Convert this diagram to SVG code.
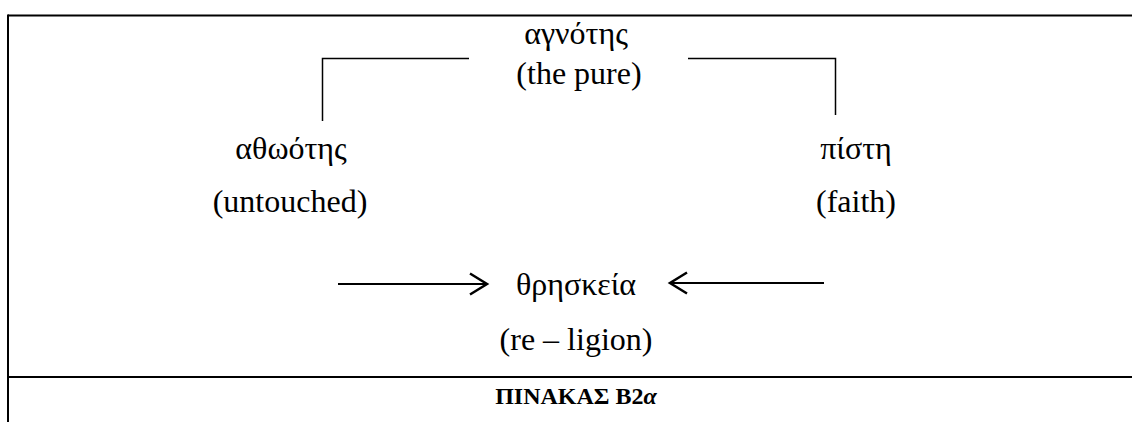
<svg xmlns="http://www.w3.org/2000/svg" width="1132" height="422" viewBox="0 0 1132 422">
<style>
  .t { font-family: "Liberation Serif", "Times New Roman", serif; font-size: 32px; fill: #000; text-anchor: middle; }
  .cap { font-family: "Liberation Serif", "Times New Roman", serif; font-size: 24px; font-weight: bold; fill: #000; text-anchor: middle; }
  .frame { stroke: #000; stroke-width: 2; fill: none; }
  .bracket { stroke: #000; stroke-width: 1.5; fill: none; }
  .arrow { stroke: #000; stroke-width: 2; fill: none; marker-end: url(#chev); }
</style>
<defs>
  <marker id="chev" markerUnits="userSpaceOnUse" markerWidth="22" markerHeight="26" viewBox="0 0 22 26" refX="19" refY="13" orient="auto">
    <path d="M2,2.5 L19,13 L2,23.5" fill="none" stroke="#000" stroke-width="2.5"/>
  </marker>
</defs>
<rect width="1132" height="422" fill="#fff"/>
<g id="frame">
  <line class="frame" x1="8" y1="15.5" x2="1132" y2="15.5"/>
  <line class="frame" x1="8" y1="14.5" x2="8" y2="422"/>
  <line class="frame" x1="8" y1="377" x2="1132" y2="377"/>
</g>
<g id="connectors">
  <polyline class="bracket" points="469,58.5 322.5,58.5 322.5,121"/>
  <polyline class="bracket" points="688,58.5 835.5,58.5 835.5,115"/>
  <line class="arrow" x1="338" y1="284" x2="487" y2="284"/>
  <line class="arrow" x1="824" y1="283" x2="670" y2="283"/>
</g>
<g id="node-agnotis">
  <text class="t" x="576" y="44">αγνότης</text>
  <text class="t" x="579" y="84">(the pure)</text>
</g>
<g id="node-athootis">
  <text class="t" x="291" y="159">αθωότης</text>
  <text class="t" x="290" y="212">(untouched)</text>
</g>
<g id="node-pisti">
  <text class="t" x="856" y="159">πίστη</text>
  <text class="t" x="856" y="212">(faith)</text>
</g>
<g id="node-thriskeia">
  <text class="t" x="576" y="295">θρησκεία</text>
  <text class="t" x="576" y="350">(re – ligion)</text>
</g>
<g id="caption">
  <text class="cap" x="576" y="404">ΠΙΝΑΚΑΣ Β2<tspan font-style="italic">α</tspan></text>
</g>
</svg>
